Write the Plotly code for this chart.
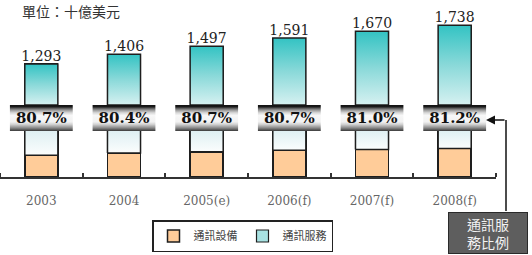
import plotly.graph_objects as go
import numpy as np

# ---------------- data ----------------
years = ["2003", "2004", "2005(e)", "2006(f)", "2007(f)", "2008(f)"]
total_values = [1293, 1406, 1497, 1591, 1670, 1738]          # 十億美元
service_ratio = [80.7, 80.4, 80.7, 80.7, 81.0, 81.2]         # 通訊服務比例 (%)
ratio_labels = ["80.7%", "80.4%", "80.7%", "80.7%", "81.0%", "81.2%"]
value_labels = ["1,293", "1,406", "1,497", "1,591", "1,670", "1,738"]
series_names = ["通訊設備", "通訊服務"]
title_text = "單位：十億美元"
note_text = "通訊服<br>務比例"

equipment_values = [round(t * (100 - r) / 100) for t, r in zip(total_values, service_ratio)]
service_values = [t - e for t, e in zip(total_values, equipment_values)]
xpos = list(range(len(years)))

# ---------------- layout constants ----------------
W, H = 532, 255
PX_PER_UNIT = 0.087
AXIS_Y, BAND_BOT, BAND_TOP = 177, 131, 105
lower_range = [0, (AXIS_Y - BAND_BOT) / PX_PER_UNIT]
upper_lo = 822
upper_range = [upper_lo, upper_lo + BAND_TOP / PX_PER_UNIT]
frac = lambda py: 1 - py / H

BAR_W = 0.4
BAND_HALF = 0.38
OUTLINE = "#1e1e1e"

fig = go.Figure()

# lower part: equipment + beginning of service (stacked)
fig.add_trace(go.Bar(
    x=xpos, y=equipment_values, width=BAR_W, name=series_names[0],
    marker=dict(color="#ffcc99", line=dict(color=OUTLINE, width=1.5)),
    xaxis="x", yaxis="y", showlegend=True, legendrank=1,
))
fig.add_trace(go.Bar(
    x=xpos, y=service_values, width=BAR_W, name=series_names[1],
    marker=dict(color="#eef7f9", line=dict(color=OUTLINE, width=1.5)),
    xaxis="x", yaxis="y", showlegend=False,
))

# upper part: service bar top (legend entry)
fig.add_trace(go.Bar(
    x=xpos, y=total_values, width=BAR_W, name=series_names[1],
    marker=dict(color="#a8e2e2", line=dict(color=OUTLINE, width=1.2)),
    xaxis="x", yaxis="y2", showlegend=True, legendrank=2,
))

# gradient overlays for upper service bars
for xi, tv in zip(xpos, total_values):
    x0, x1 = xi - BAR_W / 2, xi + BAR_W / 2
    fig.add_trace(go.Scatter(
        x=[x0, x1, x1, x0, x0], y=[upper_lo, upper_lo, tv, tv, upper_lo],
        mode="lines", fill="toself",
        line=dict(color=OUTLINE, width=1.5),
        fillgradient=dict(type="vertical", start=upper_lo, stop=tv,
                          colorscale=[[0, "#d6f1f1"], [0.5, "#8ad9d9"], [1, "#33c3c3"]]),
        xaxis="x", yaxis="y2", showlegend=False, hoverinfo="skip",
    ))

# gradient overlays for lower service part
for xi, ev in zip(xpos, equipment_values):
    x0, x1 = xi - BAR_W / 2, xi + BAR_W / 2
    top = lower_range[1] * 1.2
    fig.add_trace(go.Scatter(
        x=[x0, x1, x1, x0, x0], y=[ev, ev, top, top, ev],
        mode="lines", fill="toself",
        line=dict(color=OUTLINE, width=1.5),
        fillgradient=dict(type="vertical", start=ev, stop=lower_range[1],
                          colorscale=[[0, "#fbfdfd"], [1, "#dff0f3"]]),
        xaxis="x", yaxis="y", showlegend=False, hoverinfo="skip",
    ))

# metallic bands
band_scale = [[0, "#3a3a3a"], [0.12, "#8a8a8a"], [0.25, "#cfcfcf"], [0.35, "#f2f2f2"],
              [0.6, "#f7f7f7"], [0.7, "#d8d8d8"], [0.8, "#9a9a9a"], [0.88, "#555555"],
              [0.93, "#1a1a1a"], [1, "#111111"]]
for xi in xpos:
    x0, x1 = xi - BAND_HALF, xi + BAND_HALF
    fig.add_trace(go.Scatter(
        x=[x0, x1, x1, x0, x0], y=[0, 0, 1, 1, 0],
        mode="lines", fill="toself", line=dict(width=0, color="rgba(0,0,0,0)"),
        fillgradient=dict(type="vertical", start=0, stop=1, colorscale=band_scale),
        xaxis="x", yaxis="y3", showlegend=False, hoverinfo="skip",
    ))

# ratio labels
fig.add_trace(go.Scatter(
    x=xpos, y=[0.46] * len(xpos), mode="text", text=ratio_labels,
    textfont=dict(family="DejaVu Serif", size=15, color="#111", weight="bold"),
    xaxis="x", yaxis="y3", showlegend=False, hoverinfo="skip",
))

# value labels
fig.add_trace(go.Scatter(
    x=xpos, y=total_values, mode="text", text=value_labels, textposition="top center",
    textfont=dict(family="DejaVu Serif", size=14, color="#222"),
    xaxis="x", yaxis="y2", showlegend=False, hoverinfo="skip", cliponaxis=False,
))

n = len(years)
fig.update_layout(
    width=W, height=H, margin=dict(l=0, r=0, t=0, b=0),
    paper_bgcolor="white", plot_bgcolor="rgba(0,0,0,0)",
    barmode="stack", showlegend=True,
    xaxis=dict(domain=[0, 496 / W], range=[-0.5, n - 0.5], anchor="y",
               tickmode="array", tickvals=xpos, ticktext=years, ticks="",
               showline=True, linecolor="#333", linewidth=1.5, showgrid=False,
               zeroline=False, ticklabelstandoff=12,
               tickfont=dict(family="DejaVu Serif", size=12, color="#666"),
               minor=dict(tickmode="array", tickvals=list(np.arange(n + 1) - 0.5),
                          ticks="inside", ticklen=4, tickcolor="#333", tickwidth=1.5,
                          showgrid=False)),
    yaxis=dict(domain=[frac(AXIS_Y), frac(BAND_BOT)], range=lower_range, visible=False, anchor="x"),
    yaxis3=dict(domain=[frac(BAND_BOT), frac(BAND_TOP)], range=[0, 1], visible=False, anchor="x"),
    yaxis2=dict(domain=[frac(BAND_TOP), 1], range=upper_range, visible=False, anchor="x"),
    title=dict(text=title_text, x=22 / W, xanchor="left", y=frac(12), yanchor="middle",
               font=dict(family="Noto Sans CJK TC", size=14, color="#333")),
    legend=dict(orientation="h", x=152 / W, y=frac(220), xanchor="left", yanchor="top",
                bordercolor="#222", borderwidth=1.5, bgcolor="white",
                font=dict(family="Noto Sans CJK TC", size=11, color="#444"),
                itemwidth=30, tracegroupgap=0, traceorder="normal"),
    annotations=[
        dict(text=note_text, xref="paper", yref="paper", x=487.5 / W, y=frac(232.5),
             xanchor="center", yanchor="middle", showarrow=False, width=76, height=38,
             bgcolor="#5e5e5e", bordercolor="#2a2a2a", borderwidth=1,
             font=dict(family="Noto Sans CJK TC", size=14, color="#f2f2f2")),
        dict(text="", xref="paper", yref="paper", x=486 / W, y=frac(120),
             ax=20, ay=0, showarrow=True, arrowhead=2, arrowsize=1.2,
             arrowwidth=1.5, arrowcolor="#111"),
    ],
    shapes=[dict(type="line", xref="paper", yref="paper", x0=506 / W, x1=506 / W,
                 y0=frac(120), y1=frac(211), line=dict(color="#111", width=1.5))],
)

fig.write_html("out.html")
